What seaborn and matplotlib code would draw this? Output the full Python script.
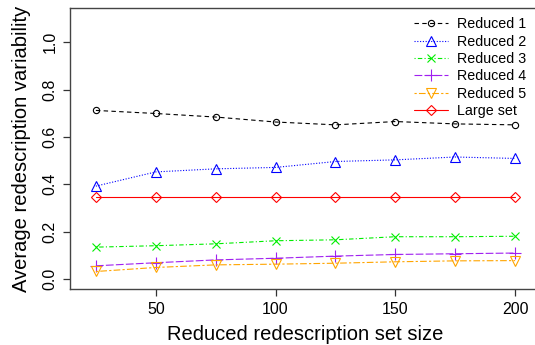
import matplotlib
matplotlib.use("Agg")
import matplotlib.pyplot as plt
import seaborn as sns
import pandas as pd

sizes = [25, 50, 75, 100, 125, 150, 175, 200]
reduced1 = [0.712, 0.699, 0.684, 0.663, 0.651, 0.665, 0.655, 0.651]
reduced2 = [0.392, 0.452, 0.465, 0.471, 0.496, 0.503, 0.515, 0.509]
reduced3 = [0.134, 0.140, 0.148, 0.161, 0.165, 0.178, 0.178, 0.180]
reduced4 = [0.055, 0.068, 0.080, 0.087, 0.096, 0.103, 0.106, 0.109]
reduced5 = [0.031, 0.048, 0.059, 0.062, 0.066, 0.072, 0.076, 0.077]
large_set = [0.347] * 8
names = ["Reduced 1", "Reduced 2", "Reduced 3", "Reduced 4", "Reduced 5", "Large set"]
series = [reduced1, reduced2, reduced3, reduced4, reduced5, large_set]

colors = ["#000000", "#0000FF", "#00EE00", "#A020F0", "#FFA500", "#FF0000"]
markers = ["o", "^", "x", "+", "v", "D"]
msizes = [4.5, 6.5, 5.5, 8, 6.5, 5]
dashes = [(0, (4, 3)), (0, (1, 1.5)), (0, (1, 2, 4, 2)), (0, (7, 2)), (0, (2, 2, 6, 2)), "-"]

sns.set_style("white")
plt.rcParams['font.family'] = ['Liberation Sans', 'DejaVu Sans']
plt.rcParams['text.color'] = 'black'
plt.rcParams['axes.labelcolor'] = 'black'
plt.rcParams['xtick.color'] = 'black'
plt.rcParams['ytick.color'] = 'black'

fig = plt.figure(figsize=(5.35, 3.45), dpi=100)
W, H = 535, 345
L, R, T, B = 70, 541, 8, 289
ax = fig.add_axes([L / W, 1 - B / H, (R - L) / W, (B - T) / H])

for name, vals, c, m, ms, ls in zip(names, series, colors, markers, msizes, dashes):
    df = pd.DataFrame({"size": sizes, "val": vals})
    sns.lineplot(data=df, x="size", y="val", ax=ax, color=c, linestyle=ls,
                 linewidth=0.8, marker=m, markersize=ms, markerfacecolor="none",
                 markeredgecolor=c, markeredgewidth=0.8, label=name)

ax.set_xlim(14.2, 210.8)
ax.set_ylim(-0.043, 1.145)
ax.set_xticks([50, 100, 150, 200])
ax.set_yticks([0.0, 0.2, 0.4, 0.6, 0.8, 1.0])
ax.set_yticklabels(["0.0", "0.2", "0.4", "0.6", "0.8", "1.0"], rotation=90, va="center")
ax.tick_params(axis="both", which="both", direction="out", length=5, width=0.9,
               color="#333333", labelsize=11.5, pad=4, left=True, bottom=True)
for s in ax.spines.values():
    s.set_color("#444444")
    s.set_linewidth(1.0)
ax.set_xlabel("Reduced redescription set size", fontsize=14.5, labelpad=6)
ax.set_ylabel("Average redescription variability", fontsize=14.5, labelpad=8)

leg = ax.legend(loc="upper left", bbox_to_anchor=(414 / W, 1 - 17.5 / H),
                bbox_transform=fig.transFigure, frameon=False,
                fontsize=10.3, handlelength=2.4, handletextpad=0.6,
                labelspacing=0.23, borderaxespad=0.0, borderpad=0.0)

fig.savefig("out.png", dpi=100)
